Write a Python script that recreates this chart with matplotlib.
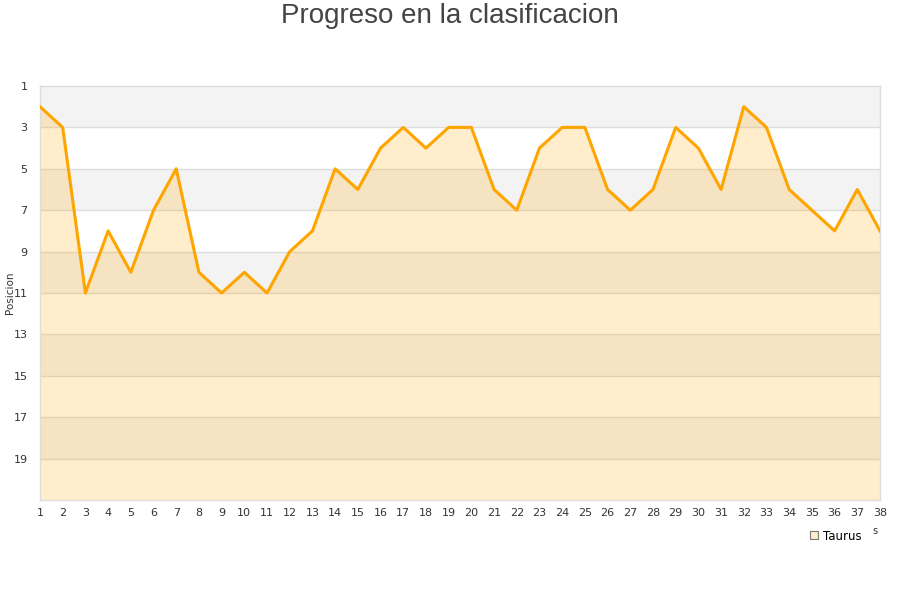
import matplotlib
matplotlib.use("Agg")
import matplotlib.pyplot as plt
from matplotlib.lines import Line2D

jornadas = list(range(1, 39))
posiciones = [2, 3, 11, 8, 10, 7, 5, 10, 11, 10, 11, 9, 8, 5, 6, 4, 3, 4, 3, 3,
              6, 7, 4, 3, 3, 6, 7, 6, 3, 4, 6, 2, 3, 6, 7, 8, 6, 8]
y_ticks = [1, 3, 5, 7, 9, 11, 13, 15, 17, 19]
serie = "Taurus"
titulo = "Progreso en la clasificacion"
ylabel = "Posicion"

fig = plt.figure(figsize=(9, 6), dpi=100)
ax = fig.add_axes([40/900, 100/600, 840/900, 414/600])
ymin, ymax = 1, 21
ax.set_xlim(1, 38)
ax.set_ylim(ymax, ymin)

# alternating bands
for i, lo in enumerate(range(1, 21, 2)):
    col = "#f3f3f3" if i % 2 == 0 else "#ffffff"
    ax.axhspan(lo, lo + 2, color=col, zorder=0, lw=0)
for t in y_ticks[1:]:
    ax.axhline(t, color="#dddddd", lw=1, zorder=1)

ax.fill_between(jornadas, posiciones, ymax, color="#FFA500", alpha=0.2, lw=0, zorder=2)
ax.plot(jornadas, posiciones, color="#FFA500", lw=2.2, zorder=3)

ax.set_yticks(y_ticks)
ax.set_xticks(jornadas)
ax.tick_params(axis="both", length=0, labelsize=8, colors="#333333")
ax.tick_params(axis="y", pad=9)
ax.tick_params(axis="x", pad=6)
for s in ax.spines.values():
    s.set_color("#dddddd")
    s.set_linewidth(1)

fig.text(10/900, 1 - 293/600, ylabel, rotation=90, fontsize=7.5, color="#333333",
         ha="center", va="center")
fig.text(0.5, 1 - 16/600, titulo, fontsize=20, color="#444444", ha="center", va="center",
         family="Liberation Sans")
fig.text(875/900, 1 - 531/600, "s", fontsize=7, color="#333333", ha="center", va="center")

handle = Line2D([], [], marker="s", linestyle="none", markersize=6,
                markerfacecolor="#FFEDCC", markeredgecolor="#777777", markeredgewidth=0.8)
fig.legend([handle], [serie], loc="center", bbox_to_anchor=(835/900, 1 - 536/600),
           frameon=False, fontsize=8.5, handletextpad=0.3, handlelength=1)

fig.savefig("out.png", dpi=100)
